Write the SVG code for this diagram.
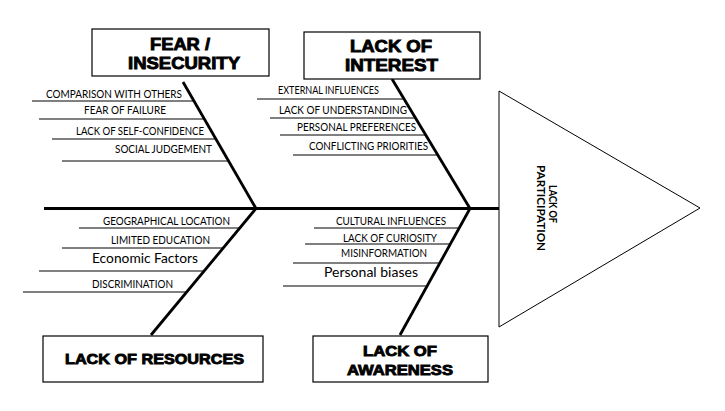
<svg xmlns="http://www.w3.org/2000/svg" width="725" height="411" viewBox="0 0 725 411">
  <style>
    .box { fill: #fff; stroke: #000; stroke-width: 1.2; }
    .head { font-family: "Liberation Sans", Arial, sans-serif; font-weight: bold; fill: #000; stroke: #000; stroke-width: 0.9; }
    .h1 { font-size: 17px; }
    .h2 { font-size: 15px; }
    .bone { stroke: #000; stroke-width: 2.8; fill: none; stroke-linecap: butt; }
    .rib { stroke: #000; stroke-width: 1; fill: none; }
    .lbl { font-family: Lato, "Open Sans", sans-serif; font-size: 10.5px; fill: #000; }
    .lbl-big { font-family: Lato, "Open Sans", sans-serif; font-size: 12.5px; fill: #000; }
    .eff { font-family: Lato, "Open Sans", sans-serif; font-weight: bold; font-size: 11.5px; fill: #000; }
  </style>

  <rect width="725" height="411" fill="#fff"/>

  <!-- spine and bones -->
  <g id="connectors">
    <line class="bone" x1="44" y1="208.5" x2="499" y2="208.5"/>
    <line class="bone" x1="183" y1="82" x2="256" y2="208.5"/>
    <line class="bone" x1="392" y1="79" x2="470" y2="208.5"/>
    <line class="bone" x1="256" y1="208.5" x2="151" y2="335"/>
    <line class="bone" x1="470" y1="208.5" x2="400" y2="335"/>
  </g>

  <!-- effect head -->
  <g id="node-effect">
    <polygon points="499,91 700,208 499,327" fill="#fff" stroke="#000" stroke-width="1"/>
    <text class="eff" transform="translate(548.5,185) rotate(90)" textLength="38" lengthAdjust="spacingAndGlyphs">LACK OF</text>
    <text class="eff" transform="translate(536.5,165) rotate(90)" textLength="86" lengthAdjust="spacingAndGlyphs">PARTICIPATION</text>
  </g>

  <!-- category: fear / insecurity -->
  <g id="node-fear">
    <rect class="box" x="92" y="29" width="177" height="47"/>
    <text class="head h1" x="150" y="50" textLength="60" lengthAdjust="spacingAndGlyphs">FEAR /</text>
    <text class="head h1" x="128" y="68.5" textLength="112" lengthAdjust="spacingAndGlyphs">INSECURITY</text>
    <g class="ribs">
      <line class="rib" x1="32" y1="101" x2="194" y2="101"/>
      <line class="rib" x1="39" y1="119" x2="205" y2="119"/>
      <line class="rib" x1="52" y1="139" x2="216" y2="139"/>
      <line class="rib" x1="62" y1="161" x2="229" y2="161"/>
    </g>
    <text class="lbl" x="46" y="98" textLength="136" lengthAdjust="spacingAndGlyphs">COMPARISON WITH OTHERS</text>
    <text class="lbl" x="84" y="114" textLength="82" lengthAdjust="spacingAndGlyphs">FEAR OF FAILURE</text>
    <text class="lbl" x="76" y="135" textLength="128" lengthAdjust="spacingAndGlyphs">LACK OF SELF-CONFIDENCE</text>
    <text class="lbl" x="115" y="153" textLength="97" lengthAdjust="spacingAndGlyphs">SOCIAL JUDGEMENT</text>
  </g>

  <!-- category: lack of interest -->
  <g id="node-interest">
    <rect class="box" x="304" y="32" width="176" height="47"/>
    <text class="head h1" x="350" y="52" textLength="82" lengthAdjust="spacingAndGlyphs">LACK OF</text>
    <text class="head h1" x="345" y="71" textLength="93" lengthAdjust="spacingAndGlyphs">INTEREST</text>
    <g class="ribs">
      <line class="rib" x1="257" y1="99" x2="404" y2="99"/>
      <line class="rib" x1="270" y1="118" x2="415" y2="118"/>
      <line class="rib" x1="280" y1="135" x2="426" y2="135"/>
      <line class="rib" x1="293" y1="155" x2="438" y2="155"/>
    </g>
    <text class="lbl" x="278" y="94" textLength="101" lengthAdjust="spacingAndGlyphs">EXTERNAL INFLUENCES</text>
    <text class="lbl" x="279" y="114" textLength="128" lengthAdjust="spacingAndGlyphs">LACK OF UNDERSTANDING</text>
    <text class="lbl" x="297" y="131" textLength="119" lengthAdjust="spacingAndGlyphs">PERSONAL PREFERENCES</text>
    <text class="lbl" x="309" y="150" textLength="119" lengthAdjust="spacingAndGlyphs">CONFLICTING PRIORITIES</text>
  </g>

  <!-- category: lack of resources -->
  <g id="node-resources">
    <rect class="box" x="43" y="336" width="220" height="46"/>
    <text class="head h2" x="65" y="364" textLength="179" lengthAdjust="spacingAndGlyphs">LACK OF RESOURCES</text>
    <g class="ribs">
      <line class="rib" x1="79" y1="228" x2="240" y2="228"/>
      <line class="rib" x1="62" y1="248" x2="224" y2="248"/>
      <line class="rib" x1="39" y1="271" x2="204" y2="271"/>
      <line class="rib" x1="23" y1="292" x2="187" y2="292"/>
    </g>
    <text class="lbl" x="103" y="225" textLength="127" lengthAdjust="spacingAndGlyphs">GEOGRAPHICAL LOCATION</text>
    <text class="lbl" x="111" y="244" textLength="99" lengthAdjust="spacingAndGlyphs">LIMITED EDUCATION</text>
    <text class="lbl-big" x="92" y="263" textLength="106" lengthAdjust="spacingAndGlyphs">Economic Factors</text>
    <text class="lbl" x="92" y="288" textLength="81" lengthAdjust="spacingAndGlyphs">DISCRIMINATION</text>
  </g>

  <!-- category: lack of awareness -->
  <g id="node-awareness">
    <rect class="box" x="313" y="336" width="175" height="46"/>
    <text class="head h2" x="363" y="356" textLength="74" lengthAdjust="spacingAndGlyphs">LACK OF</text>
    <text class="head h2" x="347" y="375" textLength="106" lengthAdjust="spacingAndGlyphs">AWARENESS</text>
    <g class="ribs">
      <line class="rib" x1="314" y1="228" x2="459" y2="228"/>
      <line class="rib" x1="305" y1="244" x2="450" y2="244"/>
      <line class="rib" x1="293" y1="263" x2="440" y2="263"/>
      <line class="rib" x1="283" y1="286" x2="427" y2="286"/>
    </g>
    <text class="lbl" x="336" y="225" textLength="110" lengthAdjust="spacingAndGlyphs">CULTURAL INFLUENCES</text>
    <text class="lbl" x="343" y="242" textLength="94" lengthAdjust="spacingAndGlyphs">LACK OF CURIOSITY</text>
    <text class="lbl" x="341" y="257" textLength="86" lengthAdjust="spacingAndGlyphs">MISINFORMATION</text>
    <text class="lbl-big" x="324" y="277" textLength="94" lengthAdjust="spacingAndGlyphs">Personal biases</text>
  </g>
</svg>
